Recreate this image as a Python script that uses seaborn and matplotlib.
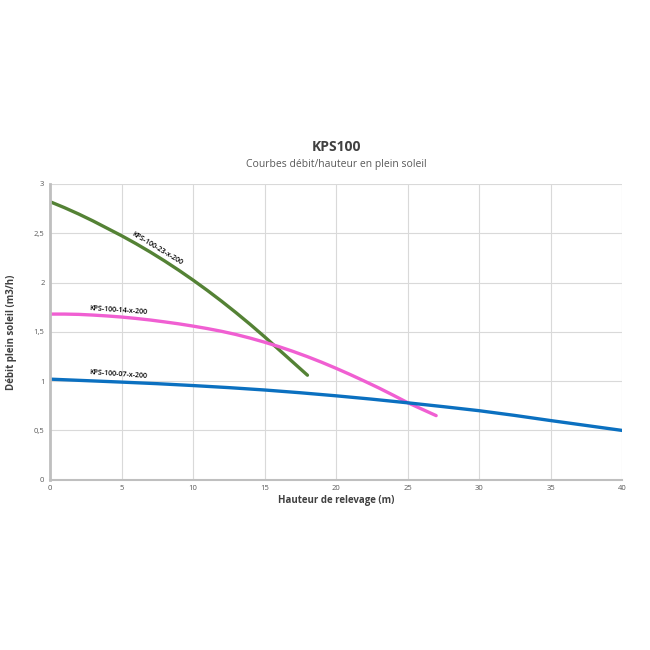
import pandas as pd
import seaborn as sns
import matplotlib.pyplot as plt
from matplotlib.ticker import FuncFormatter

# Data
hauteur_23 = list(range(0, 19))
debit_23 = [2.82, 2.76, 2.695, 2.625, 2.55, 2.475, 2.395, 2.31, 2.22, 2.125,
            2.025, 1.92, 1.81, 1.695, 1.575, 1.45, 1.32, 1.19, 1.06]

hauteur_14 = list(range(0, 28))
debit_14 = [1.68, 1.68, 1.677, 1.67, 1.661, 1.65, 1.636, 1.62, 1.601, 1.581,
            1.558, 1.533, 1.505, 1.473, 1.436, 1.395, 1.35, 1.301, 1.248, 1.191,
            1.13, 1.066, 0.999, 0.93, 0.857, 0.782, 0.716, 0.65]

hauteur_07 = [0, 2.5, 5, 7.5, 10, 12.5, 15, 17.5, 20, 22.5, 25, 27.5, 30, 32.5, 35, 37.5, 40]
debit_07 = [1.02, 1.005, 0.99, 0.974, 0.955, 0.934, 0.91, 0.882, 0.851, 0.817,
            0.78, 0.741, 0.70, 0.652, 0.60, 0.55, 0.50]

models = ["KPS-100-23-x-200", "KPS-100-14-x-200", "KPS-100-07-x-200"]
colors = ["#548235", "#f05fd2", "#0b70c0"]

df = pd.concat([
    pd.DataFrame({"hauteur": hauteur_23, "debit": debit_23, "model": models[0]}),
    pd.DataFrame({"hauteur": hauteur_14, "debit": debit_14, "model": models[1]}),
    pd.DataFrame({"hauteur": hauteur_07, "debit": debit_07, "model": models[2]}),
])

sns.set_theme(style="whitegrid")
plt.rcParams['font.family'] = ['Open Sans', 'DejaVu Sans']

fig = plt.figure(figsize=(6.5, 6.5), dpi=100)
ax = fig.add_axes([0.077, 0.262, 0.880, 0.455])

sns.lineplot(data=df, x="hauteur", y="debit", hue="model", palette=colors,
             hue_order=models, linewidth=2.4, legend=False, ax=ax, sort=False)

ax.set_xlim(0, 40)
ax.set_ylim(0, 3)
ax.set_xticks(range(0, 41, 5))
ax.set_yticks([0, 0.5, 1, 1.5, 2, 2.5, 3])
ax.yaxis.set_major_formatter(FuncFormatter(lambda v, p: f"{v:g}".replace(".", ",")))
ax.tick_params(axis="both", labelsize=5.5, labelcolor="#595959", length=0, pad=4)

ax.grid(True, color="#d9d9d9", linewidth=0.8)
for side in ["top", "right"]:
    ax.spines[side].set_visible(False)
ax.spines["left"].set_color("#bfbfbf")
ax.spines["left"].set_linewidth(2)
ax.spines["bottom"].set_color("#bfbfbf")
ax.spines["bottom"].set_linewidth(1.5)

ax.set_xlabel("Hauteur de relevage (m)", fontsize=7, fontweight="bold", color="#404040", labelpad=2)
ax.set_ylabel("Débit plein soleil (m3/h)", fontsize=7, fontweight="bold", color="#404040", labelpad=12)

# Curve labels
label_style = dict(fontsize=5.1, fontweight="semibold", ha="center", va="center", color="black")
ax.text(7.5, 2.34, models[0], rotation=-31, **label_style)
ax.text(4.75, 1.72, models[1], rotation=-4, **label_style)
ax.text(4.75, 1.065, models[2], rotation=-4, **label_style)

fig.text(0.518, 0.768, "KPS100", fontsize=10, fontweight="bold", color="#404040", ha="center")
fig.text(0.518, 0.743, "Courbes débit/hauteur en plein soleil", fontsize=7.5, color="#595959", ha="center")

fig.savefig("out.png", dpi=100)
